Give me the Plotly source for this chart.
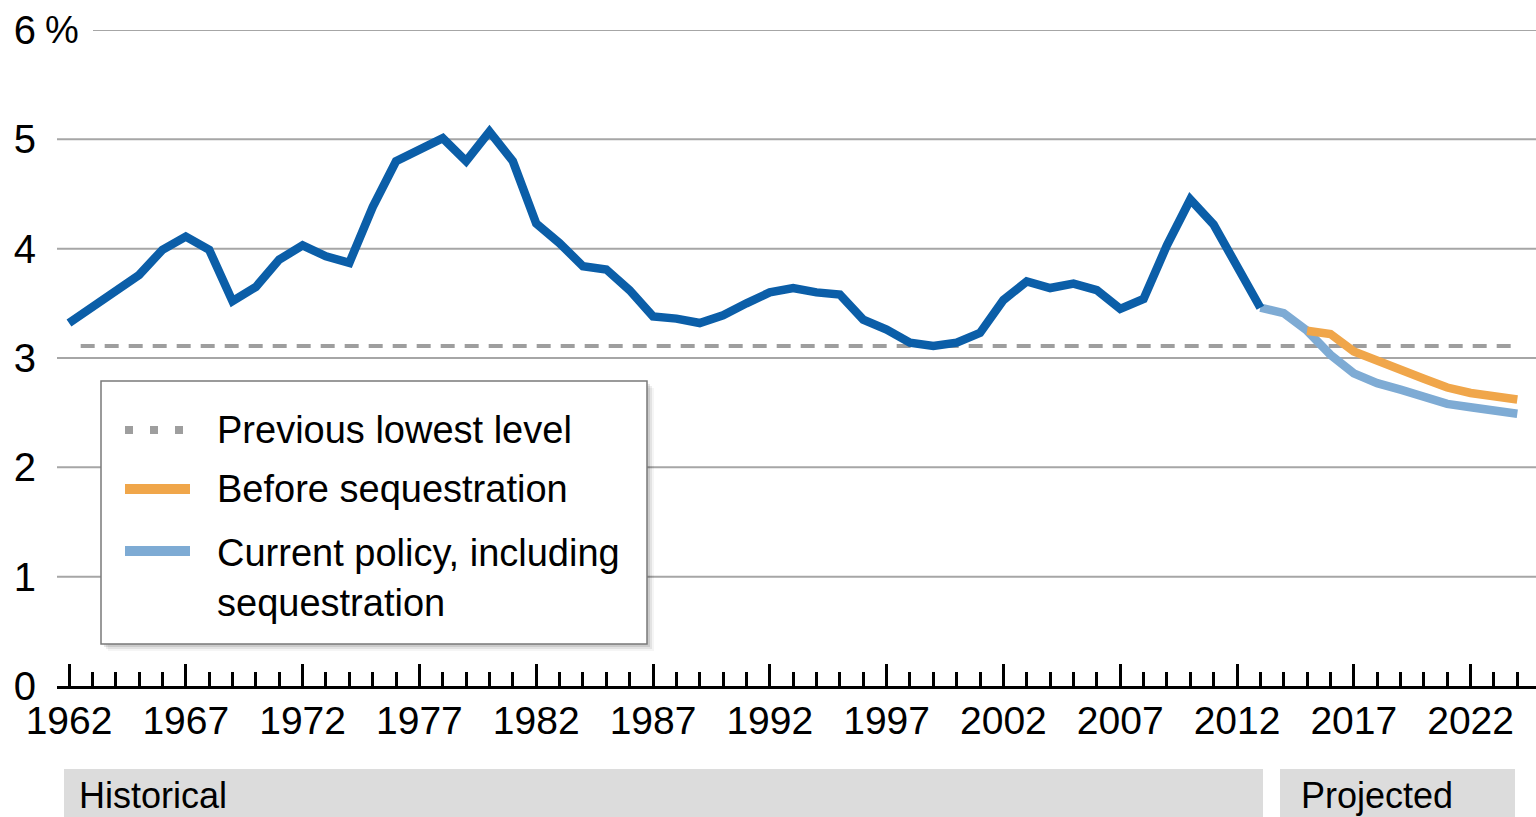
import plotly.graph_objects as go

# ---------------- data ----------------
hist_years = list(range(1962, 2014))
hist_values = [3.32, 3.47, 3.62, 3.76, 3.99, 4.11, 3.99, 3.52, 3.65, 3.90,
               4.03, 3.93, 3.87, 4.38, 4.80, 4.90, 5.01, 4.80, 5.07, 4.80,
               4.23, 4.05, 3.84, 3.81, 3.62, 3.38, 3.36, 3.32, 3.39, 3.50,
               3.60, 3.64, 3.60, 3.58, 3.35, 3.26, 3.14, 3.11, 3.14, 3.23,
               3.53, 3.70, 3.64, 3.68, 3.62, 3.45, 3.54, 4.03, 4.45, 4.22,
               3.84, 3.46]

current_years = list(range(2013, 2025))
current_values = [3.46, 3.41, 3.25, 3.03, 2.86, 2.77, 2.71, 2.64, 2.58, 2.55, 2.52, 2.49]

before_years = list(range(2015, 2025))
before_values = [3.25, 3.22, 3.06, 2.97, 2.89, 2.81, 2.73, 2.68, 2.65, 2.62]

previous_lowest = 3.11

y_ticks = [0, 1, 2, 3, 4, 5, 6]
y_ticktext = ["0", "1", "2", "3", "4", "5", "6"]
x_ticks = [1962, 1967, 1972, 1977, 1982, 1987, 1992, 1997, 2002, 2007, 2012, 2017, 2022]

legend_labels = ["Previous lowest level", "Before sequestration",
                 "Current policy, including", "sequestration"]
band_labels = ["Historical", "Projected"]

# ---------------- style ----------------
FONT = "Liberation Sans Narrow, Liberation Sans, Arial, sans-serif"
DARK_BLUE = "#0b5ea8"
LIGHT_BLUE = "#7eabd4"
ORANGE = "#f0a64a"
GRAY_DASH = "#9e9e9e"
GRID = "#a6a6a6"

W, H = 1536, 817
ML, MR, MT, MB = 57, 0, 30, 131
PW = W - ML - MR
PH = H - MT - MB


def px_x(px):
    return (px - ML) / PW


def px_y(py):
    return (H - MB - py) / PH


fig = go.Figure()

# previous lowest level (dashed)
fig.add_trace(go.Scatter(
    x=[hist_years[0] + 0.5, current_years[-1]], y=[previous_lowest, previous_lowest],
    mode="lines", line=dict(color=GRAY_DASH, width=4, dash="14px,10px"),
    hoverinfo="skip", showlegend=False))

# current policy (light blue)
fig.add_trace(go.Scatter(
    x=current_years, y=current_values, mode="lines",
    line=dict(color=LIGHT_BLUE, width=8.5), showlegend=False))

# before sequestration (orange)
fig.add_trace(go.Scatter(
    x=before_years, y=before_values, mode="lines",
    line=dict(color=ORANGE, width=8.5), showlegend=False))

# historical (dark blue)
fig.add_trace(go.Scatter(
    x=hist_years, y=hist_values, mode="lines",
    line=dict(color=DARK_BLUE, width=8.5), showlegend=False))

shapes = []
# horizontal gridlines
for v in y_ticks[1:]:
    x0 = px_x(93) if v == y_ticks[-1] else 0
    shapes.append(dict(type="line", xref="paper", yref="y", x0=x0, x1=1, y0=v, y1=v,
                       line=dict(color=GRID, width=2), layer="below"))

# legend box with shadow
lx0, lx1, ly0, ly1 = 101, 647, 381, 644
for off, a in [(7, 0.04), (5, 0.07), (3, 0.10)]:
    shapes.append(dict(type="rect", xref="paper", yref="paper",
                       x0=px_x(lx0 + off), x1=px_x(lx1 + off),
                       y0=px_y(ly0 + off), y1=px_y(ly1 + off),
                       line=dict(width=0), fillcolor=f"rgba(0,0,0,{a})", layer="above"))
shapes.append(dict(type="rect", xref="paper", yref="paper",
                   x0=px_x(lx0), x1=px_x(lx1), y0=px_y(ly0), y1=px_y(ly1),
                   line=dict(color="#7a7a7a", width=1.5), fillcolor="white", layer="above"))
# legend samples
shapes.append(dict(type="line", xref="paper", yref="paper",
                   x0=px_x(125), x1=px_x(192), y0=px_y(430), y1=px_y(430),
                   line=dict(color=GRAY_DASH, width=8, dash="8px,17px"), layer="above"))
shapes.append(dict(type="line", xref="paper", yref="paper",
                   x0=px_x(125), x1=px_x(190), y0=px_y(489), y1=px_y(489),
                   line=dict(color=ORANGE, width=10), layer="above"))
shapes.append(dict(type="line", xref="paper", yref="paper",
                   x0=px_x(125), x1=px_x(190), y0=px_y(551), y1=px_y(551),
                   line=dict(color=LIGHT_BLUE, width=10), layer="above"))

# bottom bands
shapes.append(dict(type="rect", xref="paper", yref="paper",
                   x0=px_x(64), x1=px_x(1263), y0=px_y(769), y1=px_y(817),
                   line=dict(width=0), fillcolor="#dcdcdc", layer="below"))
shapes.append(dict(type="rect", xref="paper", yref="paper",
                   x0=px_x(1280), x1=px_x(1515), y0=px_y(769), y1=px_y(817),
                   line=dict(width=0), fillcolor="#dcdcdc", layer="below"))

annotations = []
for text, ypx in zip(legend_labels, [430, 489, 553, 603]):
    annotations.append(dict(text=text, xref="paper", yref="paper",
                            x=px_x(215), y=px_y(ypx), xanchor="left", yanchor="middle",
                            showarrow=False, font=dict(family=FONT, size=38, color="black")))
annotations.append(dict(text=band_labels[0], xref="paper", yref="paper",
                        x=px_x(77), y=px_y(795), xanchor="left", yanchor="middle",
                        showarrow=False, font=dict(family=FONT, size=36, color="black")))
annotations.append(dict(text=band_labels[1], xref="paper", yref="paper",
                        x=px_x(1299), y=px_y(795), xanchor="left", yanchor="middle",
                        showarrow=False, font=dict(family=FONT, size=36, color="black")))
# percent sign after the top tick
annotations.append(dict(text="%", xref="paper", yref="y",
                        x=px_x(43), y=y_ticks[-1], xanchor="left", yanchor="middle",
                        showarrow=False, font=dict(family=FONT, size=38, color="black")))

fig.update_layout(
    width=W, height=H,
    margin=dict(l=ML, r=MR, t=MT, b=MB, pad=0),
    paper_bgcolor="white", plot_bgcolor="white",
    font=dict(family=FONT, color="black"),
    shapes=shapes, annotations=annotations,
    showlegend=False,
)

x_px_per_year = 23.36
fig.update_xaxes(
    range=[1962 - (69 - ML) / x_px_per_year, 1962 + (W - 69) / x_px_per_year],
    tickmode="array", tickvals=x_ticks, ticktext=[str(t) for t in x_ticks],
    ticks="inside", ticklen=22, tickwidth=3, tickcolor="black",
    minor=dict(ticks="inside", ticklen=14, tickwidth=2.5, tickcolor="black", dtick=1, tick0=1962),
    showline=True, linecolor="black", linewidth=3,
    showgrid=False, zeroline=False,
    tickfont=dict(family=FONT, size=39, color="black"),
    ticklabelstandoff=-2,
)
fig.update_yaxes(
    range=[0, 6], tickmode="array", tickvals=y_ticks, ticktext=y_ticktext,
    ticks="", showline=False, showgrid=False, zeroline=False,
    tickfont=dict(family=FONT, size=40, color="black"),
    ticklabelstandoff=20,
)

fig.write_html("out.html",
               config={"displayModeBar": False},
               post_script="document.body.style.margin='0';document.body.style.padding='0';")
